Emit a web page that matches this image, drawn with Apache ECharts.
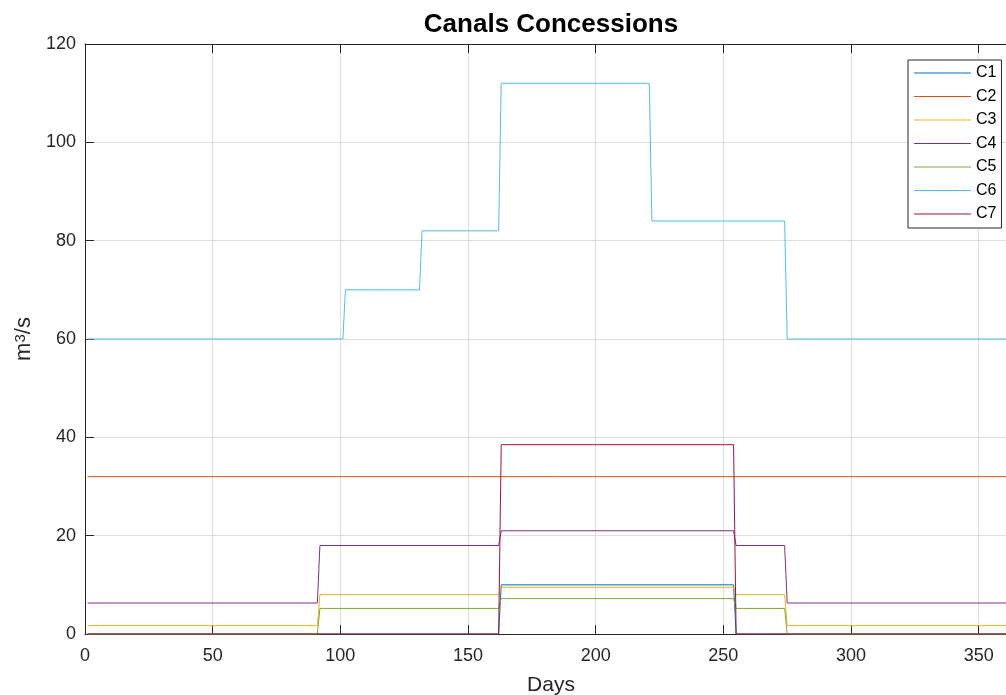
<!DOCTYPE html>
<html>
<head>
<meta charset="utf-8">
<title>Canals Concessions</title>
<script src="https://cdn.jsdelivr.net/npm/echarts@6.0.0/dist/echarts.min.js"></script>
<style>
	html, body { margin: 0; padding: 0; overflow: hidden; background: #fff; }
	/* the plot box runs past the right edge of the window, like the original figure */
	#chart { width: 1102px; height: 695px; }
</style>
</head>
<body>
<div id="chart"></div>
<script>
// day of the year where a canal changes its flow, and the flow on that day (m3/s)
let c1Days = [1, 162, 163, 254, 255, 365],
	c1Flow = [0, 0, 10, 10, 0, 0],
	c2Days = [1, 365],
	c2Flow = [32, 32],
	c3Days = [1, 91, 92, 162, 163, 254, 255, 274, 275, 365],
	c3Flow = [1.7, 1.7, 8, 8, 9.5, 9.5, 8, 8, 1.7, 1.7],
	c4Days = [1, 91, 92, 162, 163, 254, 255, 274, 275, 365],
	c4Flow = [6.3, 6.3, 18, 18, 21, 21, 18, 18, 6.3, 6.3],
	c5Days = [1, 91, 92, 162, 163, 254, 255, 274, 275, 365],
	c5Flow = [0, 0, 5.2, 5.2, 7.2, 7.2, 5.2, 5.2, 0, 0],
	c6Days = [1, 101, 102, 131, 132, 162, 163, 221, 222, 274, 275, 365],
	c6Flow = [60, 60, 70, 70, 82, 82, 112, 112, 84, 84, 60, 60],
	c7Days = [1, 162, 163, 254, 255, 365],
	c7Flow = [0, 0, 38.5, 38.5, 0, 0];

let canalNames = ['C1', 'C2', 'C3', 'C4', 'C5', 'C6', 'C7'],
	canalDays = [c1Days, c2Days, c3Days, c4Days, c5Days, c6Days, c7Days],
	canalFlow = [c1Flow, c2Flow, c3Flow, c4Flow, c5Flow, c6Flow, c7Flow],
	canalColors = ['#0072BD', '#D95319', '#EDB120', '#7E2F8E', '#77AC30', '#4DBEEE', '#A2142F'];

let axisColor = '#262626',
	gridColor = '#dfdfdf',
	fontFamily = '"Liberation Sans", Arial, Helvetica, sans-serif';

function pairs(days, flow)
{
	return days.map((d, i) => [d, flow[i]]);
}

let series = canalNames.map((name, i) => ({
	name: name,
	type: 'line',
	data: pairs(canalDays[i], canalFlow[i]),
	symbol: 'none',
	showSymbol: false,
	clip: false,
	lineStyle: {width: 1, color: canalColors[i]},
	itemStyle: {color: canalColors[i]},
	emphasis: {disabled: true}
}));

let chart = echarts.init(document.getElementById('chart'), null, {renderer: 'canvas'});

chart.setOption({
	animation: false,
	backgroundColor: '#fff',
	textStyle: {fontFamily: fontFamily},
	title: {
		text: 'Canals Concessions',
		left: 'center',
		top: 12,
		padding: 0,
		textStyle: {fontSize: 26, fontWeight: 'bold', color: '#000', fontFamily: fontFamily}
	},
	// fixed box, no automatic shrinking for the axis names
	grid: {left: 85, right: 85, top: 44, bottom: 61, containLabel: false, outerBoundsMode: 'none'},
	legend: {
		orient: 'vertical',
		left: 908,
		top: 60,
		padding: [5, 5, 6, 6],
		itemGap: 7.5,
		itemWidth: 57,
		itemHeight: 1.2,
		itemStyle: {borderWidth: 0},
		icon: 'rect',
		backgroundColor: '#fff',
		borderColor: axisColor,
		borderWidth: 1,
		borderRadius: 0,
		textStyle: {fontSize: 16, lineHeight: 16, color: '#000', fontFamily: fontFamily},
		data: canalNames
	},
	xAxis: [
		{
			type: 'value',
			min: 0,
			max: 365,
			interval: 50,
			name: 'Days',
			nameLocation: 'middle',
			nameGap: 41,
			nameTextStyle: {fontSize: 21, color: axisColor, fontFamily: fontFamily},
			axisLine: {show: true, onZero: false, lineStyle: {color: axisColor, width: 1}},
			axisTick: {show: true, inside: true, length: 9, lineStyle: {color: axisColor}},
			axisLabel: {fontSize: 18, color: axisColor, margin: 13, showMaxLabel: false, fontFamily: fontFamily},
			splitLine: {show: true, lineStyle: {color: gridColor, width: 1}}
		},
		{
			type: 'value',
			position: 'top',
			min: 0,
			max: 365,
			interval: 50,
			axisLine: {show: true, onZero: false, lineStyle: {color: axisColor, width: 1}},
			axisTick: {show: true, inside: true, length: 9, lineStyle: {color: axisColor}},
			axisLabel: {show: false},
			splitLine: {show: false}
		}
	],
	yAxis: {
		type: 'value',
		min: 0,
		max: 120,
		interval: 20,
		// superscript 3 through rich text
		name: '{b|m}{s|3}{b|/s}',
		nameLocation: 'middle',
		nameGap: 40,
		nameTextStyle: {
			fontSize: 22,
			color: axisColor,
			fontFamily: fontFamily,
			rich: {
				b: {fontSize: 22, color: axisColor, fontFamily: fontFamily, verticalAlign: 'bottom'},
				s: {fontSize: 15, color: axisColor, fontFamily: fontFamily, verticalAlign: 'top'}
			}
		},
		axisLine: {show: true, onZero: false, lineStyle: {color: axisColor, width: 1}},
		axisTick: {show: true, inside: true, length: 9, lineStyle: {color: axisColor}},
		axisLabel: {fontSize: 18, color: axisColor, margin: 9, fontFamily: fontFamily},
		splitLine: {show: true, lineStyle: {color: gridColor, width: 1}}
	},
	series: series
});
</script>
</body>
</html>
